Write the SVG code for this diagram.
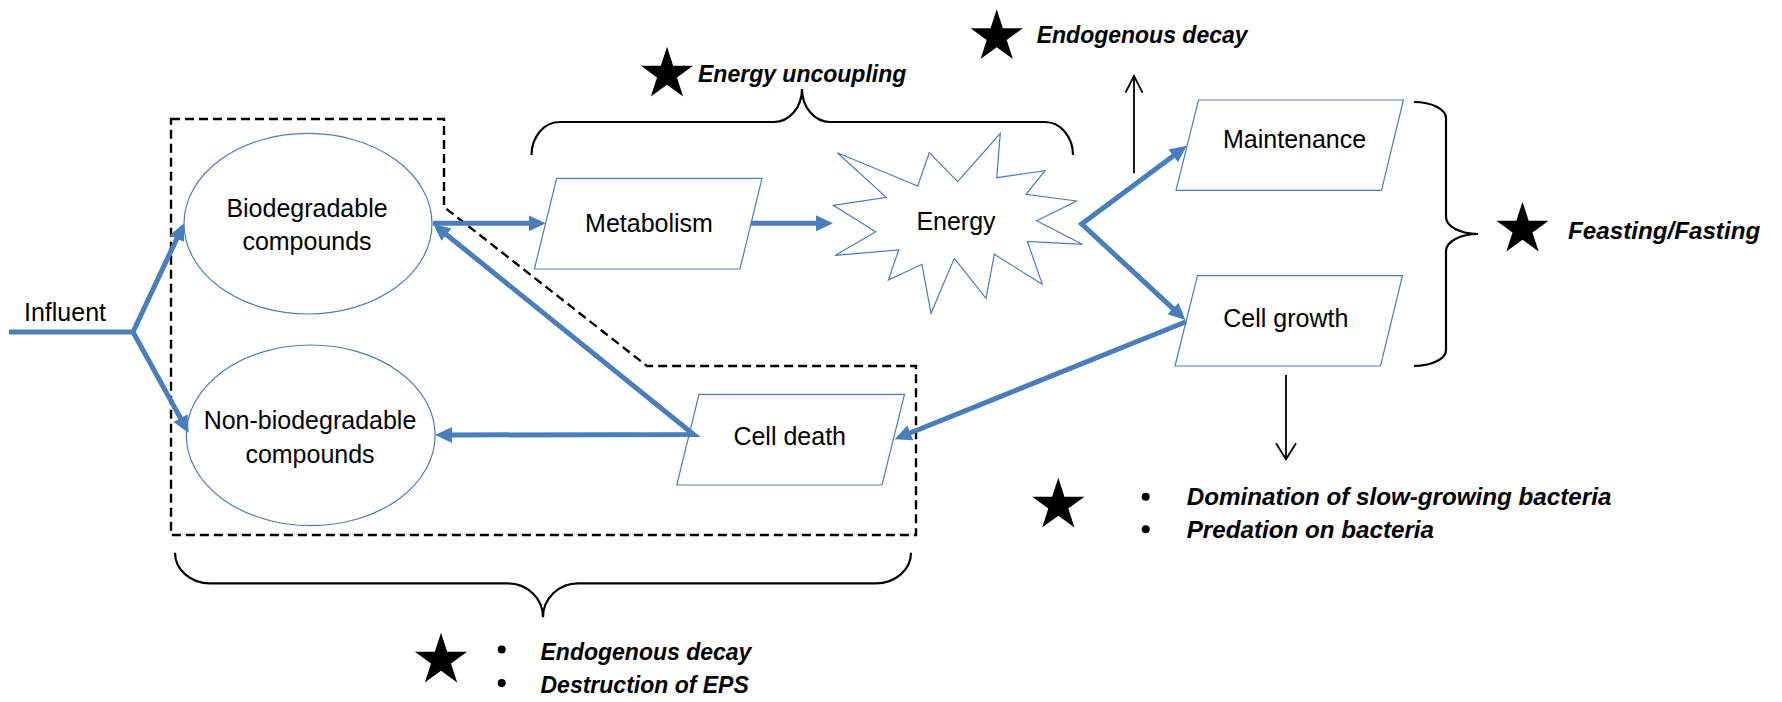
<svg xmlns="http://www.w3.org/2000/svg" width="1782" height="702" viewBox="0 0 1782 702">
<style>
.shape{fill:#fff;stroke:#4a7ebb;stroke-width:1.2}
.t{font-family:"Liberation Sans",Arial,sans-serif;font-size:25px;fill:#000;text-anchor:middle}
.bi{font-family:"Liberation Sans",Arial,sans-serif;font-size:23px;font-weight:bold;font-style:italic;fill:#000}
.bi2{font-size:24.2px}
.flow{fill:none;stroke:#4a7ebb;stroke-width:5;stroke-linejoin:miter}
.thin{fill:none;stroke:#000;stroke-width:1.8}
.brace{fill:none;stroke:#000;stroke-width:2.2}
.dash{fill:none;stroke:#000;stroke-width:2.4;stroke-dasharray:9 5}
</style>
<defs>
<marker id="ah" markerUnits="userSpaceOnUse" markerWidth="18" markerHeight="17" refX="5" refY="8" orient="auto-start-reverse" viewBox="0 0 18 17">
<path d="M0,0 L17,8 L0,16 Z" fill="#4a7ebb"/>
</marker>
<path id="star" d="M0,-27.5 L6.17,-8.49 L26.15,-8.5 L9.99,3.24 L16.16,22.25 L0,10.5 L-16.16,22.25 L-9.99,3.24 L-26.15,-8.5 L-6.17,-8.49 Z" fill="#000"/>
</defs>
<rect width="1782" height="702" fill="#fff"/>

<g id="boundary">
<path class="dash" d="M171,119 L444,119 L444,207 L647,366 L916,366 L916,535 L171,535 Z"/>
</g>

<g id="brace-top">
<path class="brace" d="M531.5,155 A28,33 0 0 1 559.5,122 L774,122 A28,33 0 0 0 802,89 A28,33 0 0 0 830,122 L1045,122 A28,33 0 0 1 1073,155"/>
</g>
<g id="brace-right">
<path class="brace" d="M1414,102 A32,16 0 0 1 1446,118 L1446,217 A32,17 0 0 0 1478,234 A32,17 0 0 0 1446,251 L1446,350 A32,16 0 0 1 1414,366"/>
</g>
<g id="brace-bottom">
<path class="brace" d="M175,552.7 A35,30.6 0 0 0 210,583.3 L508,583.3 A35,34 0 0 1 543,617.3 A35,34 0 0 1 578,583.3 L876,583.3 A35,30.6 0 0 0 911,552.7"/>
</g>

<g id="influent">
<text class="t" x="24" y="320.7" style="text-anchor:start">Influent</text>
</g>

<g id="biodegradable">
<ellipse class="shape" cx="308" cy="223.7" rx="124" ry="90.3"/>
<text class="t" x="307" y="216.7">Biodegradable</text>
<text class="t" x="307" y="250">compounds</text>
</g>

<g id="non-biodegradable">
<ellipse class="shape" cx="310.7" cy="435.3" rx="124.4" ry="90.3"/>
<text class="t" x="310" y="429">Non-biodegradable</text>
<text class="t" x="310" y="462.7">compounds</text>
</g>

<g id="metabolism">
<path class="shape" d="M556.6,178.3 L762,178.3 L740,269 L534.4,269 Z"/>
<text class="t" x="649" y="232">Metabolism</text>
</g>

<g id="energy">
<path class="shape" d="M837.3,152.7 L917.7,186 L929.3,152.7 L957.7,181.7 L1000.3,133.3 L996.7,177.7 L1045,170.7 L1026,194.3 L1076.7,201 L1036.7,220.7 L1082.3,244.3 L1027.3,241.3 L1042.3,284.3 L994.3,254.3 L986,298.3 L954.3,258.3 L931,313.3 L922,264.3 L888.3,280 L898.7,250 L835.3,255.3 L875.7,231.7 L833.3,205.3 L886.3,197.3 Z"/>
<text class="t" x="956" y="230">Energy</text>
</g>

<g id="maintenance">
<path class="shape" d="M1198.5,100 L1403.4,100 L1381.5,190.3 L1176,190.3 Z"/>
<text class="t" x="1294.6" y="147.7">Maintenance</text>
</g>

<g id="cell-growth">
<path class="shape" d="M1197.5,275.7 L1402.5,275.7 L1380.5,366 L1175,366 Z"/>
<text class="t" x="1285.8" y="326.7">Cell growth</text>
</g>

<g id="cell-death">
<path class="shape" d="M699,394.3 L904.5,394.3 L882,485 L676.8,485 Z"/>
<text class="t" x="789.7" y="445">Cell death</text>
</g>

<g id="connectors">
<path class="flow" d="M9,332 L133,332 L178.9,234.2" marker-end="url(#ah)"/>
<path class="flow" d="M133,332 L182.9,422.5" marker-end="url(#ah)"/>
<path class="flow" d="M433,223.3 L533.7,223.3" marker-end="url(#ah)"/>
<path class="flow" d="M750.7,223.3 L821,223.3" marker-end="url(#ah)"/>
<path class="flow" d="M1177.2,152.9 L1081.7,224 L1176.6,311.85" marker-start="url(#ah)" marker-end="url(#ah)"/>
<path class="flow" d="M1186,321.7 L905.7,434.8" marker-end="url(#ah)"/>
<path class="flow" d="M442.6,231.5 L693.75,434.5 L447,435" marker-start="url(#ah)" marker-end="url(#ah)"/>
<path class="thin" d="M1134,173.3 L1134,77 M1125.5,92.7 L1134,76 L1142.5,92.7"/>
<path class="thin" d="M1286,375 L1286,458 M1276,443.3 L1286,459.3 L1296,443.3"/>
</g>

<g id="note-energy-uncoupling">
<use href="#star" x="667" y="74.2"/>
<text class="bi" x="698" y="81.7">Energy uncoupling</text>
</g>

<g id="note-endogenous-top">
<use href="#star" x="996.7" y="36.8"/>
<text class="bi" x="1036.7" y="42.7">Endogenous decay</text>
</g>

<g id="note-feasting">
<use href="#star" x="1522.5" y="229.2"/>
<text class="bi bi2" x="1568" y="239.3">Feasting/Fasting</text>
</g>

<g id="note-growth">
<use href="#star" x="1058.3" y="505.2"/>
<circle cx="1145.7" cy="496.7" r="4"/>
<circle cx="1145.7" cy="529.3" r="4"/>
<text class="bi bi2" x="1186.7" y="505">Domination of slow-growing bacteria</text>
<text class="bi bi2" x="1186.7" y="538.3">Predation on bacteria</text>
</g>

<g id="note-decay-bottom">
<use href="#star" x="441" y="660.2"/>
<circle cx="501.7" cy="649.5" r="4"/>
<circle cx="501.7" cy="683" r="4"/>
<text class="bi" x="540.5" y="660">Endogenous decay</text>
<text class="bi" x="540.5" y="693">Destruction of EPS</text>
</g>
</svg>
